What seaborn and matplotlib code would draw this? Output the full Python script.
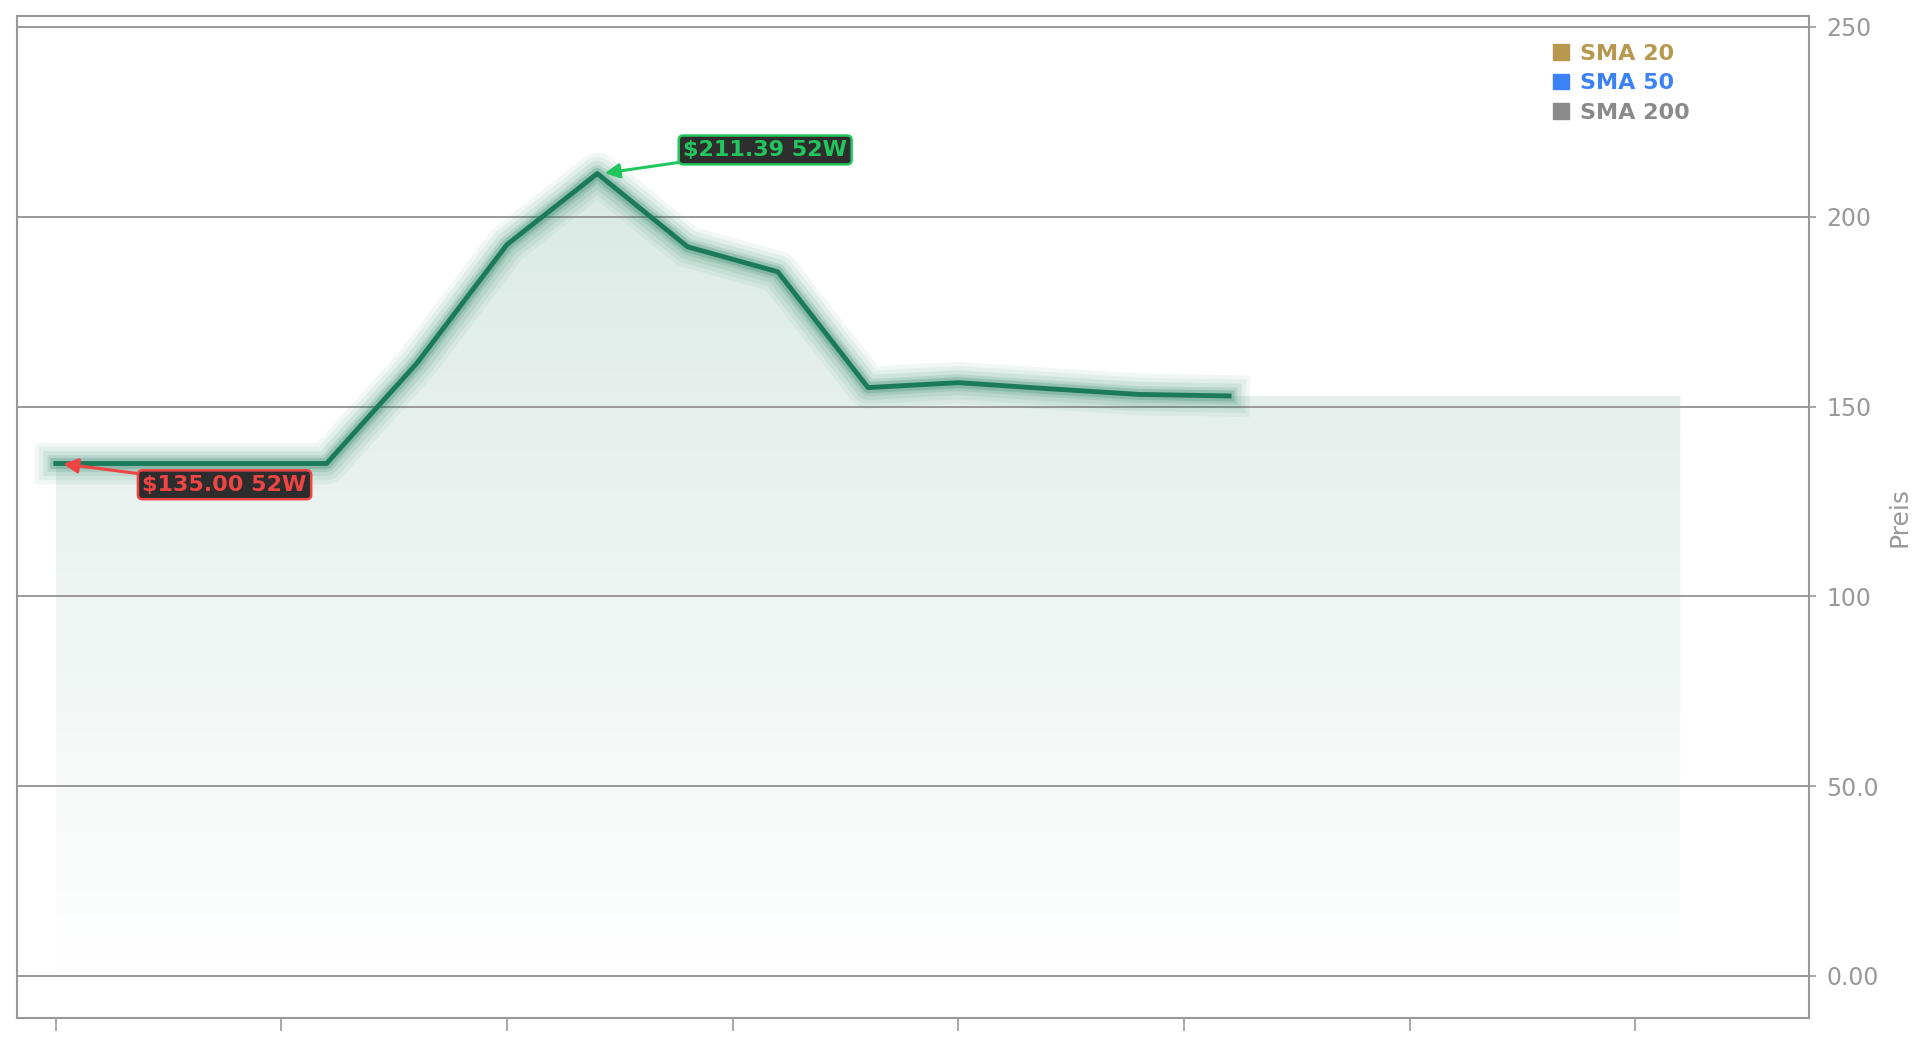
import numpy as np
import matplotlib
matplotlib.use('Agg')
import matplotlib.pyplot as plt
import seaborn as sns
from matplotlib.patches import Patch

# price series (index = period)
periods = list(range(14))
prices = [135.00, 135.00, 135.00, 135.00, 161.4, 192.7, 211.39, 192.1,
          185.5, 155.0, 156.3, 154.7, 153.2, 152.8]
fill_end = 18  # shaded area runs on past the last price
y_ticks = [0, 50, 100, 150, 200, 250]
y_tick_labels = ['0.00', '50.0', '100', '150', '200', '250']
x_ticks = [0, 2.5, 5, 7.5, 10, 12.5, 15, 17.5]
legend_names = ['SMA 20', 'SMA 50', 'SMA 200']
legend_colors = ['#b8974f', '#3b82f6', '#8a8a8a']

line_color = '#1b7a5a'
grey = '#999999'

sns.set_style('white')
fig, ax = plt.subplots(figsize=(19.29, 10.44), dpi=100)
fig.subplots_adjust(left=0.0088, right=0.938, top=0.9847, bottom=0.0252)

ax.set_xlim(-0.43, 19.43)
ax.set_ylim(-11, 252.9)

# gradient area under the price
fx = periods + list(range(periods[-1] + 1, fill_end + 1))
fy = prices + [prices[-1]] * (fill_end - periods[-1])
poly = ax.fill_between(fx, fy, -5, color='none', lw=0)
grad = np.zeros((256, 1, 4))
grad[:, 0, :3] = matplotlib.colors.to_rgb(line_color)
grad[:, 0, 3] = np.linspace(0.0, 0.16, 256)
img = ax.imshow(grad, extent=[0, fill_end, -5, max(prices)], origin='lower',
                aspect='auto', zorder=1)
img.set_clip_path(poly.get_paths()[0], ax.transData)

# glow layers + main line
for lw, a in [(30, 0.06), (24, 0.07), (18, 0.09), (12, 0.13), (8, 0.22)]:
    sns.lineplot(x=periods, y=prices, ax=ax, color=line_color, lw=lw, alpha=a,
                 solid_capstyle='projecting', zorder=3)
sns.lineplot(x=periods, y=prices, ax=ax, color=line_color, lw=3.5,
             solid_capstyle='projecting', zorder=4)

# grid lines
for t in y_ticks:
    ax.axhline(t, color=grey, lw=1.4, zorder=2)

# y axis on the right
ax.yaxis.tick_right()
ax.yaxis.set_label_position('right')
ax.set_yticks(y_ticks)
ax.set_yticklabels(y_tick_labels)
ax.set_ylabel('Preis', color=grey, fontsize=18, labelpad=6)
ax.set_xticks(x_ticks)
ax.set_xticklabels([])
ax.tick_params(axis='both', colors=grey, labelcolor=grey, labelsize=17,
               width=1.2, direction='out', left=False, bottom=True, right=True)
ax.tick_params(axis='y', length=5, pad=7)
ax.tick_params(axis='x', length=9)
for s in ax.spines.values():
    s.set_color(grey)
    s.set_linewidth(1.5)

# 52 week high / low annotations
hi = int(np.argmax(prices))
lo = int(np.argmin(prices))
ax.annotate(f'${prices[hi]:.2f} 52W', xy=(periods[hi] + 0.05, prices[hi]),
            xytext=(7.86, 217.6), ha='center', va='center',
            fontsize=16, fontweight='bold', color='#22c55e',
            bbox=dict(boxstyle='round,pad=0.2', fc='#2d2d2d', ec='#22c55e', lw=1.8),
            arrowprops=dict(arrowstyle='-|>', color='#22c55e', lw=2.2,
                            mutation_scale=22, shrinkA=0, shrinkB=2),
            zorder=6)
ax.annotate(f'${prices[lo]:.2f} 52W', xy=(periods[lo] + 0.05, prices[lo]),
            xytext=(1.87, 129.4), ha='center', va='center',
            fontsize=16, fontweight='bold', color='#ef4444',
            bbox=dict(boxstyle='round,pad=0.2', fc='#2d2d2d', ec='#ef4444', lw=1.8),
            arrowprops=dict(arrowstyle='-|>', color='#ef4444', lw=2.2,
                            mutation_scale=22, shrinkA=0, shrinkB=2),
            zorder=6)

# legend
handles = [Patch(facecolor=c, edgecolor=c) for c in legend_colors]
leg = ax.legend(handles, legend_names, loc='upper left',
                bbox_to_anchor=(0.857, 0.972), frameon=False,
                borderaxespad=0, borderpad=0,
                prop={'weight': 'bold', 'size': 16}, handlelength=0.7,
                handleheight=0.7, handletextpad=0.5, labelspacing=0.42)
for txt, c in zip(leg.get_texts(), legend_colors):
    txt.set_color(c)

fig.savefig('out.png', dpi=100)
